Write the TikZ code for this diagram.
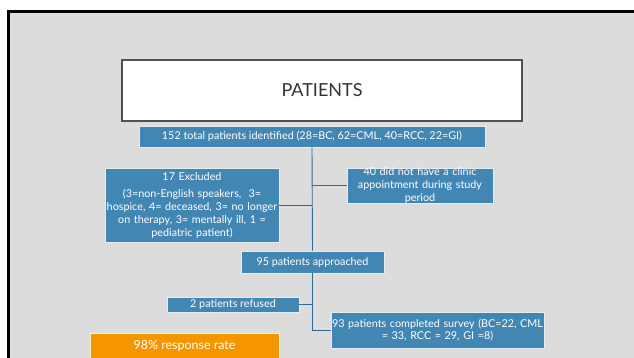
\documentclass[tikz,border=0pt]{standalone}
\usepackage{fontspec}
\setmainfont{Lato}
\begin{document}
\definecolor{slidebg}{RGB}{220,220,220}
\definecolor{boxblue}{RGB}{66,135,180}
\definecolor{linkblue}{RGB}{46,106,148}
\definecolor{rateorange}{RGB}{245,149,0}
\definecolor{titlegray}{RGB}{80,80,80}
\begin{tikzpicture}[x=1pt,y=-1pt,
  bluebox/.style={draw=white!85!boxblue, line width=0.6pt, fill=boxblue,
    text=white, font=\fontsize{10.8}{12.6}\selectfont, align=center,
    inner sep=0pt, anchor=center},
  link/.style={draw=linkblue, line width=0.9pt}]
\useasboundingbox (0,0) rectangle (634,358);
\clip (0,0) rectangle (634,358);
% slide frame
\fill[white] (0,0) rectangle (634,358);
\draw[line width=2.6pt, fill=slidebg] (8.5,11.5) rectangle (660,380);
% title box
\node[draw=titlegray, line width=1.3pt, fill=white, minimum width=400pt,
  minimum height=61pt, inner sep=0pt, text=black!80,
  font=\fontsize{18}{21}\selectfont] (patients) at (322,90.5) {PATIENTS};
% flow boxes
\node[bluebox, minimum width=346pt, minimum height=21pt] (total) at (312,136.5)
  {152 total patients identified (28=BC, 62=CML, 40=RCC, 22=GI)};
\node[bluebox, minimum width=174pt, minimum height=74pt, text width=174pt,
  font=\fontsize{10.8}{13.2}\selectfont] (excl) at (192,205.5)
  {17 Excluded\\[3.5pt](3=non-English speakers,\ \ 3=\\hospice, 4= deceased, 3= no longer\\on therapy, 3= mentally ill, 1 =\\pediatric patient)};
\node[bluebox, minimum width=146pt, minimum height=35pt, text width=144pt] (noappt) at (420,185.5)
  {40 did not have a clinic\\appointment during study\\period};
\node[bluebox, minimum width=143pt, minimum height=22pt] (approached) at (312.5,262)
  {95 patients approached};
\node[bluebox, minimum width=132pt, minimum height=15pt] (refused) at (233,304.5)
  {2 patients refused};
\node[bluebox, minimum width=213pt, minimum height=36pt, text width=213pt] (completed) at (437.5,330)
  {93 patients completed survey (BC=22, CML\\= 33, RCC = 29, GI =8)};
\node[draw=white!85!rateorange, line width=0.6pt, fill=rateorange, text=white,
  minimum width=189pt, minimum height=26pt, inner sep=0pt,
  font=\fontsize{12.5}{14}\selectfont] (rate) at (184.5,346) {98\% response rate};
% connectors
\draw[link] (total.south) -- (approached.north);
\draw[link] (excl.east) -- (excl.east -| total.south);
\draw[link] (noappt.west) -- (noappt.west -| total.south);
\draw[link] (approached.south) |- (completed.west);
\draw[link] (refused.east) -- (refused.east -| approached.south);
\end{tikzpicture}
\end{document}
